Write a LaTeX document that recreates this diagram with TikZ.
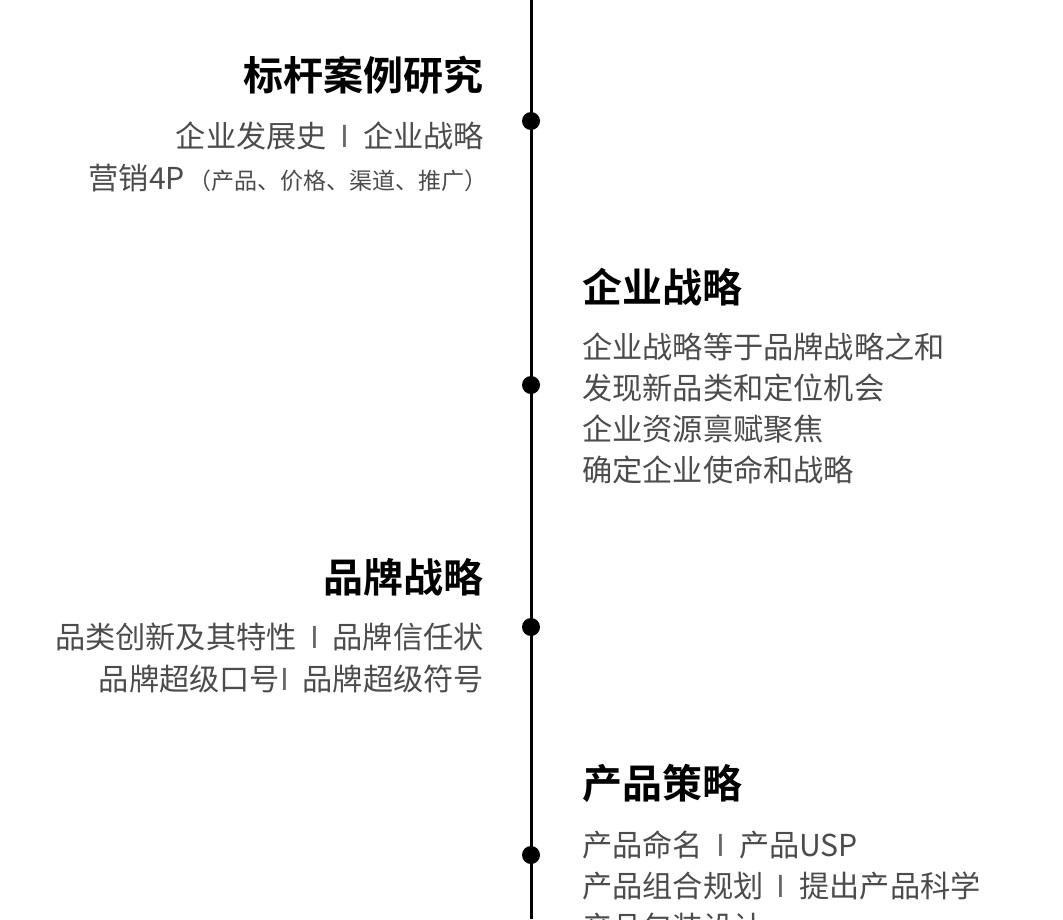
\documentclass[tikz,border=0pt]{standalone}
\usepackage{fontspec}
\setmainfont{Noto Sans CJK SC}
\newfontfamily\cjkb{Noto Sans CJK SC Bold}
\newcommand{\sepI}{\hspace{0.45em}{\color{black!60}I}\hspace{0.45em}}
\begin{document}
\begin{tikzpicture}[x=1pt,y=-1pt,
  head/.style={font=\cjkb\fontsize{40}{40}\selectfont,text=black,inner sep=0pt},
  body/.style={font=\fontsize{30.2}{30}\selectfont,text=black!70,inner sep=0pt},
  dot/.style={circle,fill=black,minimum size=18pt,inner sep=0pt}]
\useasboundingbox (0,0) rectangle (1063,919);
\clip (0,0) rectangle (1063,919);
\fill[white] (0,0) rectangle (1063,919);
\coordinate (top) at (531,0);
\coordinate (bot) at (531,919);
\draw[line width=3pt] (top) -- (bot);
\node[dot] (d1) at (531,121) {};
\node[dot] (d2) at (531,385) {};
\node[dot] (d3) at (531,627) {};
\node[dot] (d4) at (531,855) {};
\node[head,anchor=east] (h1) at (484,75) {标杆案例研究};
\node[body,anchor=east] (a1) at (484,136) {企业发展史\sepI 企业战略};
\node[body,anchor=east] (a2) at (488,178) {营销4P{\fontsize{23}{23}\selectfont\,（产品、价格、渠道、推广）}};
\node[head,anchor=west] (h2) at (582,287) {企业战略};
\node[body,anchor=west] (b1) at (582,347) {企业战略等于品牌战略之和};
\node[body,anchor=west] (b2) at (582,388) {发现新品类和定位机会};
\node[body,anchor=west] (b3) at (582,429) {企业资源禀赋聚焦};
\node[body,anchor=west] (b4) at (582,470) {确定企业使命和战略};
\node[head,anchor=east] (h3) at (484,577) {品牌战略};
\node[body,anchor=east] (c1) at (484,637) {品类创新及其特性\sepI 品牌信任状};
\node[body,anchor=east] (c2) at (484,679) {品牌超级口号{\color{black!60}I}\hspace{0.45em}品牌超级符号};
\node[head,anchor=west] (h4) at (582,783) {产品策略};
\node[body,anchor=west] (e1) at (582,845) {产品命名\sepI 产品USP};
\node[body,anchor=west] (e2) at (582,886) {产品组合规划\sepI 提出产品科学};
\node[body,anchor=west] (e3) at (582,927) {产品包装设计};
\end{tikzpicture}
\end{document}
